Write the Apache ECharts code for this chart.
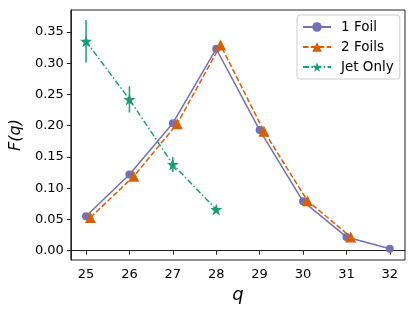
<!DOCTYPE html>
<html><head><meta charset="utf-8">
<script src="https://cdn.jsdelivr.net/npm/echarts@6/dist/echarts.min.js"></script>
<style>html,body{margin:0;padding:0;background:#fff}#c{width:415px;height:311px}</style>
</head><body><div id="c"></div>
<script>
var qFoil1 = [25, 26, 27, 28, 29, 30, 31, 32];
var foil1 = [0.055, 0.122, 0.204, 0.323, 0.193, 0.079, 0.022, 0.003];
var foil1Err = [0.002, 0.002, 0.003, 0.003, 0.003, 0.002, 0.001, 0.001];
var qFoil2 = [25.1, 26.1, 27.1, 28.1, 29.1, 30.1, 31.1];
var foil2 = [0.053, 0.119, 0.203, 0.329, 0.191, 0.080, 0.022];
var foil2Err = [0.002, 0.002, 0.003, 0.004, 0.003, 0.002, 0.001];
var qJet = [25, 26, 27, 28];
var jet = [0.335, 0.242, 0.138, 0.066];
var jetErr = [0.034, 0.021, 0.012, 0.004];
var xTicks = [25, 26, 27, 28, 29, 30, 31, 32];
var yTicks = [0, 0.05, 0.10, 0.15, 0.20, 0.25, 0.30, 0.35];

var C1 = '#7570b3', C2 = '#d95f02', C3 = '#1b9e77';
var star = 'path://M0,-10 L2.35,-3.24 9.51,-3.09 3.8,1.24 5.88,8.09 0,4 -5.88,8.09 -3.8,1.24 -9.51,-3.09 -2.35,-3.24 Z';
var font = 'DejaVu Sans';

function zip(xs, ys) { return xs.map(function (x, i) { return [x, ys[i]]; }); }
function errData(xs, ys, es) { return xs.map(function (x, i) { return [x, ys[i] - es[i], ys[i] + es[i]]; }); }
function errSeries(name, xs, ys, es, color, z) {
  return {
    name: name, type: 'custom', z: z, silent: true,
    data: errData(xs, ys, es),
    encode: { x: 0, y: [1, 2] },
    renderItem: function (params, api) {
      var a = api.coord([api.value(0), api.value(1)]);
      var b = api.coord([api.value(0), api.value(2)]);
      return { type: 'line', shape: { x1: a[0], y1: a[1], x2: b[0], y2: b[1] },
               style: { stroke: color, lineWidth: 1.5 } };
    }
  };
}

var chart = echarts.init(document.getElementById('c'));
chart.setOption({
  animation: false,
  grid: { left: 70, right: 10, top: 10, bottom: 51, show: true, borderColor: '#222', borderWidth: 1 },
  xAxis: {
    type: 'value', min: 24.65, max: 32.35,
    name: 'q', nameLocation: 'middle', nameGap: 21,
    nameTextStyle: { fontFamily: font, fontSize: 18, fontStyle: 'italic', color: '#000' },
    axisLine: { show: true, lineStyle: { color: '#222' } },
    axisTick: { show: true, length: 4, customValues: xTicks, lineStyle: { color: '#222' } },
    axisLabel: { customValues: xTicks, fontFamily: font, fontSize: 13, color: '#000', margin: 8 },
    splitLine: { show: false }
  },
  yAxis: {
    type: 'value', min: -0.0149, max: 0.385,
    name: 'F(q)', nameLocation: 'middle', nameGap: 41, nameRotate: 90,
    nameTextStyle: { fontFamily: font, fontSize: 16, fontStyle: 'italic', color: '#000' },
    axisLine: { show: true, lineStyle: { color: '#222' } },
    axisTick: { show: true, length: 4, customValues: yTicks, lineStyle: { color: '#222' } },
    axisLabel: { customValues: yTicks, fontFamily: font, fontSize: 13, color: '#000', margin: 7,
                 formatter: function (v) { return v.toFixed(2); } },
    splitLine: { show: false }
  },
  legend: {
    left: 297, top: 15, orient: 'vertical', itemWidth: 28, itemHeight: 12, itemGap: 6,
    padding: [5, 6, 5, 5], borderColor: '#ccc', borderWidth: 1, borderRadius: 3,
    textStyle: { fontFamily: font, fontSize: 13.5, lineHeight: 14, color: '#000', padding: [0, 0, 0, 5] },
    data: ['1 Foil', '2 Foils', 'Jet Only']
  },
  series: [
    { name: '1 Foil', type: 'line', data: zip(qFoil1, foil1), symbol: 'circle', symbolSize: 8, z: 2,
      itemStyle: { color: C1 }, lineStyle: { color: C1, width: 1.5 } },
    errSeries('1 Foil', qFoil1, foil1, foil1Err, C1, 2),
    { name: '2 Foils', type: 'line', data: zip(qFoil2, foil2), symbol: 'triangle', symbolSize: 11, z: 3,
      itemStyle: { color: C2 }, lineStyle: { color: C2, width: 1.5, type: [5.5, 2.4] } },
    errSeries('2 Foils', qFoil2, foil2, foil2Err, C2, 3),
    { name: 'Jet Only', type: 'line', data: zip(qJet, jet), symbol: star, symbolSize: 12, z: 4,
      itemStyle: { color: C3 }, lineStyle: { color: C3, width: 1.5, type: [6, 2.4, 1.5, 2.4] } },
    errSeries('Jet Only', qJet, jet, jetErr, C3, 4)
  ]
});
</script></body></html>
